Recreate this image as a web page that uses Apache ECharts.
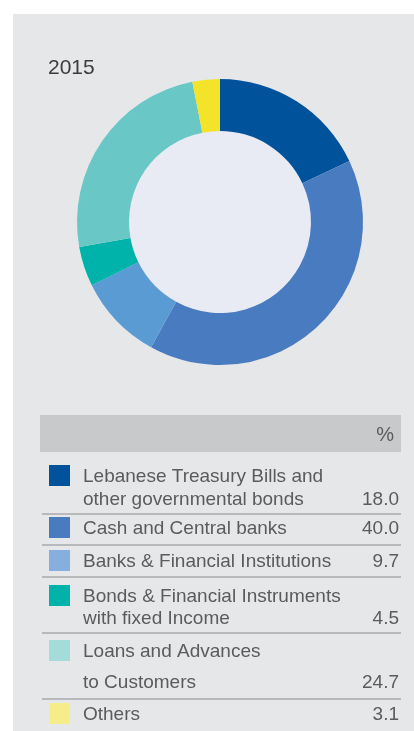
<!DOCTYPE html>
<html>
<head>
<meta charset="utf-8">
<script src="https://cdn.jsdelivr.net/npm/echarts@6/dist/echarts.min.js"></script>
<style>
  html, body { margin: 0; padding: 0; background: #ffffff; }
  #chart { width: 414px; height: 731px; }
</style>
</head>
<body>
<div id="chart"></div>
<script>
// Asset breakdown, 2015 (%)
const year = '2015';
const categories = [
  'Lebanese Treasury Bills and\nother governmental bonds',
  'Cash and Central banks',
  'Banks & Financial Institutions',
  'Bonds & Financial Instruments\nwith fixed Income',
  'Loans and Advances\nto Customers',
  'Others'
];
const values = [18.0, 40.0, 9.7, 4.5, 24.7, 3.1];
const unitLabel = '%';

// ring colours and the (lighter) legend swatch colours
const ringColors = ['#00529b', '#487bbf', '#5b9bd3', '#00b3aa', '#69c8c6', '#f3e42a'];
const swatchColors = ['#00529b', '#487bbf', '#86afdf', '#00b3aa', '#a3dcd8', '#f5ec8a'];

// table layout
const rowFirstLine = [477, 529, 562, 597, 652, 715];
const rowLineGap = [23, 0, 0, 22, 31, 0];
const separators = [514, 545, 577, 633, 699];
const tableLeft = 40, tableRight = 401;

const font = '"Liberation Sans", Arial, Helvetica, sans-serif';
const textColor = '#5a5b5c';

const graphics = [];
// background panel
graphics.push({ type: 'rect', z: -10, shape: { x: 13, y: 14, width: 401, height: 717 }, style: { fill: '#e6e7e9' } });
// year label
graphics.push({ type: 'text', x: 48, y: 68, style: { text: year, font: '21px ' + font, fill: '#3c3c3c', textVerticalAlign: 'middle' } });
// header bar
graphics.push({ type: 'rect', shape: { x: tableLeft, y: 415, width: tableRight - tableLeft, height: 37 }, style: { fill: '#c8c9cb' } });
graphics.push({ type: 'text', x: 394, y: 435, style: { text: unitLabel, font: '20px ' + font, fill: textColor, textAlign: 'right', textVerticalAlign: 'middle' } });
// separators
separators.forEach(function (y) {
  graphics.push({ type: 'line', shape: { x1: 42, y1: y, x2: tableRight, y2: y }, style: { stroke: '#a8aaac', lineWidth: 1.3 } });
});
// rows
categories.forEach(function (label, i) {
  const lines = label.split('\n');
  const y0 = rowFirstLine[i];
  graphics.push({ type: 'rect', shape: { x: 49, y: y0 - 12, width: 21, height: 21 }, style: { fill: swatchColors[i] } });
  lines.forEach(function (ln, k) {
    graphics.push({ type: 'text', x: 83, y: y0 + k * rowLineGap[i], style: { text: ln, font: '19px ' + font, fill: textColor, textVerticalAlign: 'middle' } });
  });
  graphics.push({ type: 'text', x: 399, y: y0 + (lines.length - 1) * rowLineGap[i], style: { text: values[i].toFixed(1), font: '19px ' + font, fill: textColor, textAlign: 'right', textVerticalAlign: 'middle' } });
});

const chart = echarts.init(document.getElementById('chart'), null, { renderer: 'canvas' });
chart.setOption({
  animation: false,
  backgroundColor: '#ffffff',
  graphic: graphics,
  series: [
    {
      type: 'pie',
      silent: true,
      center: [220, 222],
      radius: [0, 91],
      z: 1,
      label: { show: false },
      labelLine: { show: false },
      data: [{ value: 1, itemStyle: { color: '#e8eaf4' } }]
    },
    {
      type: 'pie',
      silent: true,
      center: [220, 222],
      radius: [91, 143],
      startAngle: 90,
      clockwise: true,
      z: 2,
      label: { show: false },
      labelLine: { show: false },
      itemStyle: { borderWidth: 0 },
      data: categories.map(function (c, i) {
        return { name: c, value: values[i], itemStyle: { color: ringColors[i] } };
      })
    }
  ]
});
</script>
</body>
</html>
